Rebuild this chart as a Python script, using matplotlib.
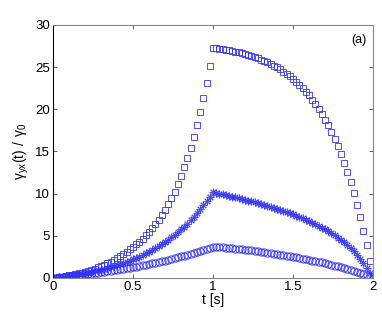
import numpy as np
import matplotlib
matplotlib.use("Agg")
import matplotlib.pyplot as plt

plt.rcParams['font.family'] = ['Liberation Sans', 'DejaVu Sans']

# time axis (dt = 0.02 s)
t = np.linspace(0, 2, 101)

# squares: largest response
sq_up = [0.00, 0.05, 0.11, 0.17, 0.24, 0.31, 0.38, 0.47, 0.56, 0.65,
         0.75, 0.86, 0.98, 1.11, 1.25, 1.40, 1.56, 1.73, 1.92, 2.12,
         2.34, 2.57, 2.82, 3.09, 3.38, 3.69, 3.98, 4.31, 4.68, 5.06,
         5.46, 5.90, 6.37, 6.89, 7.45, 8.06, 8.72, 9.43, 10.25, 11.14,
         12.09, 13.12, 14.22, 15.41, 16.69, 18.12, 19.66, 21.31, 23.14, 25.15,
         27.30]
sq_down = [27.25, 27.19, 27.13, 27.06, 26.99, 26.92, 26.83, 26.74, 26.65, 26.55,
           26.44, 26.32, 26.19, 26.05, 25.90, 25.74, 25.57, 25.38, 25.18, 24.96,
           24.73, 24.48, 24.21, 23.92, 23.61, 23.27, 22.91, 22.52, 22.09, 21.64,
           21.15, 20.63, 20.06, 19.45, 18.79, 18.08, 17.32, 16.50, 15.61, 14.66,
           13.63, 12.53, 11.34, 10.06, 8.68, 7.19, 5.59, 3.86, 2.00, 0.00]

# asterisks: middle response
st_up = [0.00, 0.04, 0.09, 0.14, 0.19, 0.25, 0.31, 0.37, 0.43, 0.50,
         0.57, 0.64, 0.72, 0.81, 0.89, 0.98, 1.08, 1.18, 1.29, 1.40,
         1.52, 1.64, 1.78, 1.91, 2.06, 2.21, 2.37, 2.54, 2.72, 2.91,
         3.11, 3.31, 3.53, 3.76, 4.01, 4.26, 4.53, 4.81, 5.11, 5.42,
         5.75, 6.10, 6.46, 6.85, 7.25, 7.68, 8.13, 8.60, 9.10, 9.62,
         10.17]
st_down = [10.09, 10.01, 9.92, 9.83, 9.74, 9.65, 9.56, 9.47, 9.38, 9.28,
           9.18, 9.08, 8.98, 8.88, 8.77, 8.66, 8.55, 8.44, 8.32, 8.20,
           8.08, 7.95, 7.82, 7.68, 7.54, 7.39, 7.24, 7.08, 6.91, 6.74,
           6.56, 6.37, 6.17, 5.96, 5.75, 5.53, 5.30, 5.06, 4.80, 4.53,
           4.25, 3.93, 3.58, 3.19, 2.76, 2.27, 1.73, 1.15, 0.55, 0.00]

# circles: smallest response
ci_up = [0.00, 0.04, 0.07, 0.11, 0.15, 0.19, 0.24, 0.28, 0.32, 0.37,
         0.42, 0.46, 0.51, 0.56, 0.61, 0.67, 0.72, 0.78, 0.83, 0.89,
         0.95, 1.02, 1.08, 1.14, 1.21, 1.28, 1.35, 1.42, 1.50, 1.57,
         1.65, 1.73, 1.81, 1.90, 1.98, 2.07, 2.16, 2.25, 2.35, 2.45,
         2.55, 2.65, 2.76, 2.87, 2.98, 3.09, 3.21, 3.33, 3.45, 3.58,
         3.71]
ci_down = [3.68, 3.65, 3.62, 3.58, 3.55, 3.51, 3.47, 3.43, 3.39, 3.35,
           3.31, 3.26, 3.21, 3.16, 3.11, 3.06, 3.01, 2.95, 2.90, 2.84,
           2.78, 2.70, 2.64, 2.57, 2.50, 2.43, 2.36, 2.29, 2.22, 2.15,
           2.07, 2.00, 1.92, 1.84, 1.75, 1.66, 1.57, 1.47, 1.37, 1.27,
           1.17, 1.07, 0.96, 0.85, 0.74, 0.63, 0.51, 0.39, 0.27, 0.15]

squares = sq_up + sq_down
stars = st_up + st_down
circles = ci_up + ci_down

fig = plt.figure(figsize=(3.82, 3.12), dpi=100)
ax = fig.add_axes([0.1387, 0.109, 0.8377, 0.811])

blue = '#3030ff'
ax.plot(t, circles, 'o', ms=5.2, mfc='none', mec=blue, mew=0.75, alpha=0.85)
# MATLAB-style asterisk (8 spokes)
ax.plot(t, stars, ls='none', marker=(8, 2, 0), ms=5.5, mec=blue, mew=0.7, alpha=0.85)
ax.plot(t, squares, 's', ms=4.4, mfc='none', mec=blue, mew=0.7, alpha=0.85)

ax.set_xlim(0, 2)
ax.set_ylim(0, 30)
ax.set_xticks([0, 0.5, 1, 1.5, 2])
ax.set_xticklabels(['0', '0.5', '1', '1.5', '2'])
ax.set_yticks([0, 5, 10, 15, 20, 25, 30])
ax.tick_params(direction='in', length=3, width=0.6, labelsize=9.5, pad=2,
               top=True, right=True, colors='#444444', labelcolor='black')
for s in ['top', 'right', 'bottom']:
    ax.spines[s].set_color('#888888')
    ax.spines[s].set_linewidth(0.8)
ax.spines['left'].set_color('black')
ax.spines['left'].set_linewidth(0.8)

ax.set_xlabel('t [s]', fontsize=10, labelpad=0)
ax.set_ylabel(r'$\mathregular{\gamma_{yx}(t)\ /\ \gamma_0}$', fontsize=10, labelpad=3)
ax.text(0.981, 0.94, '(a)', transform=ax.transAxes, ha='right', va='center', fontsize=9)

fig.savefig('out.png', dpi=100)
